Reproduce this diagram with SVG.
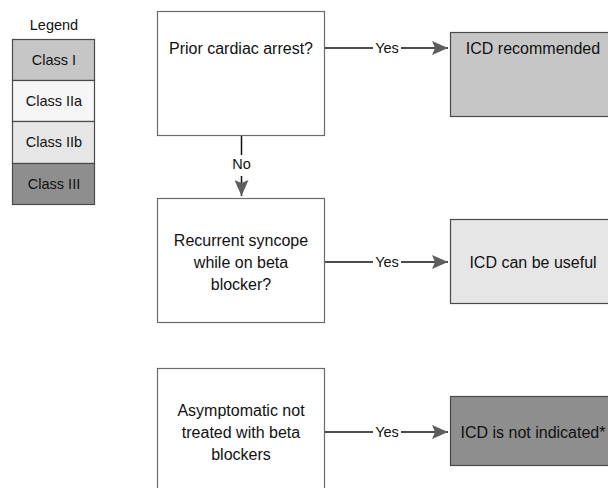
<svg xmlns="http://www.w3.org/2000/svg" width="608" height="488" viewBox="0 0 608 488">
  <style>
    text { font-family: "Liberation Sans", Arial, sans-serif; fill: #111111; }
    .q { fill: #ffffff; stroke: #6a6a6a; stroke-width: 1.2; }
    .c1 { fill: #c6c6c6; stroke: #4a4a4a; stroke-width: 1.2; }
    .c2a { fill: #f6f6f6; stroke: #4a4a4a; stroke-width: 1.2; }
    .c2b { fill: #e6e6e6; stroke: #4a4a4a; stroke-width: 1.2; }
    .c3 { fill: #8e8e8e; stroke: #4a4a4a; stroke-width: 1.2; }
    .node { font-size: 16px; text-anchor: middle; }
    .leg { font-size: 14.5px; text-anchor: middle; }
    .lbl { font-size: 14.5px; text-anchor: middle; }
    .edge { stroke: #111111; stroke-width: 1.5; fill: none; }
  </style>
  <defs>
    <marker id="headBig" viewBox="0 0 16 14" refX="16" refY="7" markerWidth="16" markerHeight="14" markerUnits="userSpaceOnUse" orient="auto">
      <path d="M0,0 L16,7 L0,14 L3,7 z" fill="#5e5e5e"/>
    </marker>
  </defs>

  <!-- legend -->
  <g id="legend">
    <text x="54" y="30" class="leg" font-size="15.5">Legend</text>
    <rect x="12.5" y="39.5" width="82" height="41" class="c1"/>
    <text x="54" y="65" class="leg">Class I</text>
    <rect x="12.5" y="80.5" width="82" height="41" class="c2a"/>
    <text x="54" y="106" class="leg">Class IIa</text>
    <rect x="12.5" y="121.5" width="82" height="42" class="c2b"/>
    <text x="54" y="147" class="leg">Class IIb</text>
    <rect x="12.5" y="163.5" width="82" height="41" class="c3"/>
    <text x="54" y="189" class="leg" fill="#333">Class III</text>
  </g>

  <!-- connectors -->
  <g id="connectors">
    <line x1="325" y1="48" x2="373" y2="48" class="edge"/>
    <line x1="401" y1="48" x2="448" y2="48" class="edge" marker-end="url(#headBig)"/>
    <text x="387" y="53" class="lbl">Yes</text>

    <line x1="241.5" y1="136" x2="241.5" y2="155" class="edge"/>
    <line x1="241.5" y1="176" x2="241.5" y2="196" class="edge" marker-end="url(#headBig)"/>
    <text x="241.5" y="169" class="lbl">No</text>

    <line x1="325" y1="262" x2="373" y2="262" class="edge"/>
    <line x1="401" y1="262" x2="448" y2="262" class="edge" marker-end="url(#headBig)"/>
    <text x="387" y="267" class="lbl">Yes</text>

    <line x1="325" y1="432" x2="373" y2="432" class="edge"/>
    <line x1="401" y1="432" x2="448" y2="432" class="edge" marker-end="url(#headBig)"/>
    <text x="387" y="437" class="lbl">Yes</text>
  </g>

  <!-- decision nodes -->
  <g id="q-arrest">
    <rect x="157.5" y="11.5" width="167" height="124" class="q"/>
    <text x="241" y="53.5" class="node">Prior cardiac arrest?</text>
  </g>
  <g id="q-syncope">
    <rect x="157.5" y="198.5" width="167" height="124" class="q"/>
    <text x="241" y="245.5" class="node">Recurrent syncope</text>
    <text x="241" y="267.5" class="node">while on beta</text>
    <text x="241" y="289.5" class="node">blocker?</text>
  </g>
  <g id="q-asymptomatic">
    <rect x="157.5" y="368.5" width="167" height="124" class="q"/>
    <text x="241" y="415.5" class="node">Asymptomatic not</text>
    <text x="241" y="437.5" class="node">treated with beta</text>
    <text x="241" y="459.5" class="node">blockers</text>
  </g>

  <!-- outcome nodes -->
  <g id="r-recommended">
    <rect x="450.5" y="32.5" width="166" height="84" class="c1"/>
    <text x="533" y="53.5" class="node">ICD recommended</text>
  </g>
  <g id="r-useful">
    <rect x="450.5" y="219.5" width="166" height="84" class="c2b"/>
    <text x="533" y="267.5" class="node">ICD can be useful</text>
  </g>
  <g id="r-not-indicated">
    <rect x="450.5" y="396.5" width="166" height="69" class="c3"/>
    <text x="533" y="437.5" class="node" fill="#2a2a2a">ICD is not indicated*</text>
  </g>
</svg>
